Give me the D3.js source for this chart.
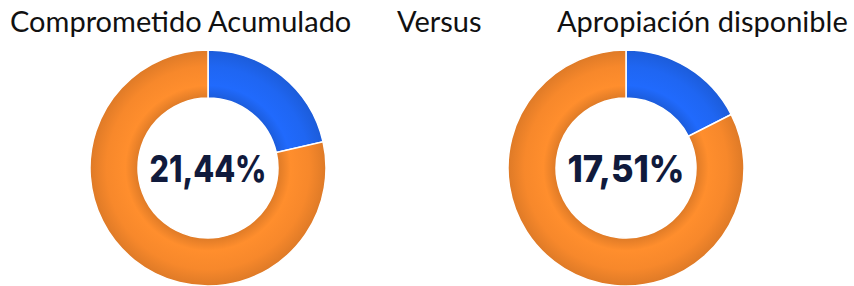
<!DOCTYPE html>
<html>
<head>
<meta charset="utf-8">
<script src="https://cdn.jsdelivr.net/npm/d3@7"></script>
<style>
  body { margin: 0; background: #fff; }
</style>
</head>
<body>
<div id="chart"></div>
<script>
// data
let titles = ['Comprometido Acumulado', 'Versus', 'Apropiación disponible']
let charts = ['comprometido', 'apropiacion']
let shares = [21.44, 17.51]
let labels = ['21,44%', '17,51%']

let width = 854
let height = 286

let svg = d3
  .select('#chart')
  .append('svg')
  .attr('width', width)
  .attr('height', height)

let defs = svg.append('defs')

// shading across the ring so it looks a bit rounded
function ringGradient(id, color) {
  let g = defs
    .append('radialGradient')
    .attr('id', id)
    .attr('gradientUnits', 'userSpaceOnUse')
    .attr('cx', 0)
    .attr('cy', 0)
    .attr('r', 118)
  let c = d3.color(color)
  g.append('stop').attr('offset', 0.58).attr('stop-color', c.darker(0.35))
  g.append('stop').attr('offset', 0.7).attr('stop-color', c.brighter(0.12))
  g.append('stop').attr('offset', 0.86).attr('stop-color', c)
  g.append('stop').attr('offset', 1).attr('stop-color', c.darker(0.3))
}
ringGradient('grad-blue', '#1f66f2')
ringGradient('grad-orange', '#f7882b')

let xPos = d3.scalePoint().domain(charts).range([208, 626])

let arc = d3.arc().innerRadius(70).outerRadius(118)
let pie = d3.pie().sort(null).value(d => d)

charts.forEach(function(name, i) {
  let g = svg
    .append('g')
    .attr('transform', `translate(${xPos(name)},168)`)

  g.selectAll('path')
    .data(pie([shares[i], 100 - shares[i]]))
    .enter()
    .append('path')
    .attr('d', arc)
    .attr('fill', (d, j) => (j === 0 ? 'url(#grad-blue)' : 'url(#grad-orange)'))
    .attr('stroke', '#fff')
    .attr('stroke-width', 1.5)

  g.append('text')
    .attr('y', 4)
    .attr('text-anchor', 'middle')
    .attr('dominant-baseline', 'middle')
    .attr('font-family', 'Inter, Roboto, sans-serif')
    .attr('font-weight', 800)
    .attr('font-size', 37)
    .attr('textLength', 117)
    .attr('lengthAdjust', 'spacingAndGlyphs')
    .attr('fill', '#101a3c')
    .text(labels[i])
})

// headings
let titleX = [10, 397, 557]
svg
  .selectAll('.title')
  .data(titles)
  .enter()
  .append('text')
  .attr('class', 'title')
  .attr('x', (d, i) => titleX[i])
  .attr('y', 32)
  .attr('font-family', 'Lato, sans-serif')
  .attr('font-size', 29)
  .attr('fill', '#111')
  .text(d => d)
</script>
</body>
</html>
